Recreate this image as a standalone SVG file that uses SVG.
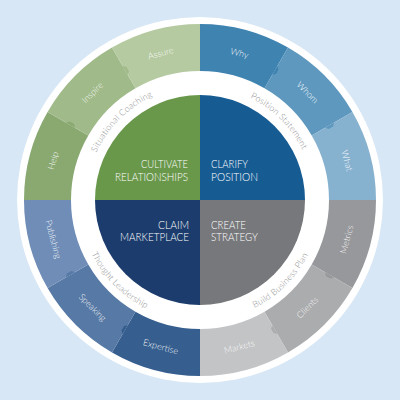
<svg xmlns="http://www.w3.org/2000/svg" xmlns:xlink="http://www.w3.org/1999/xlink" width="400" height="400" viewBox="0 0 400 400">
<style>
.seg-label{font-family:Lato,"Liberation Sans",sans-serif;font-size:9px;font-weight:300;fill:#ffffff;fill-opacity:0.95;text-anchor:middle}
.arc-label{font-family:Lato,"Liberation Sans",sans-serif;font-size:8.8px;font-weight:300;fill:#8f9092;text-anchor:middle;letter-spacing:0.2px}
.core{font-family:Lato,"Liberation Sans",sans-serif;font-size:11px;font-weight:300;fill:#ffffff}
.end{text-anchor:end}
</style>
<defs>
<path id="tab" d="M355,200 L352,202.8 L347,202.8 L344.5,200 Z"/>
<path id="arcTL" d="M86,200 A114,114 0 0 1 200,86"/>
<path id="arcTR" d="M200,86 A114,114 0 0 1 314,200"/>
<path id="arcBR" d="M200,321 A121,121 0 0 0 321,200"/>
<path id="arcBL" d="M79,200 A121,121 0 0 0 200,321"/>
</defs>
<rect x="0" y="0" width="400" height="400" fill="#d7e7f5"/>
<circle cx="200" cy="200" r="183" fill="#ffffff"/>

<g id="ring-create">
<path id="seg-metrics" d="M376,200 A176,176 0 0 1 352.42,288 L311.71,264.5 A129,129 0 0 0 329,200 Z" fill="#97989b"/>
<path id="seg-clients" d="M352.42,288 A176,176 0 0 1 288,352.42 L264.5,311.71 A129,129 0 0 0 311.71,264.5 Z" fill="#abacae"/>
<path id="seg-markets" d="M288,352.42 A176,176 0 0 1 200,376 L200,329 A129,129 0 0 0 264.5,311.71 Z" fill="#c3c4c6"/>
</g>
<g id="ring-claim">
<path id="seg-expertise" d="M200,376 A176,176 0 0 1 112,352.42 L135.5,311.71 A129,129 0 0 0 200,329 Z" fill="#365f8f"/>
<path id="seg-speaking" d="M112,352.42 A176,176 0 0 1 47.58,288 L88.29,264.5 A129,129 0 0 0 135.5,311.71 Z" fill="#5779a5"/>
<path id="seg-publishing" d="M47.58,288 A176,176 0 0 1 24,200 L71,200 A129,129 0 0 0 88.29,264.5 Z" fill="#6f8db7"/>
</g>
<g id="ring-cultivate">
<path id="seg-help" d="M24,200 A176,176 0 0 1 47.58,112 L88.29,135.5 A129,129 0 0 0 71,200 Z" fill="#89a971"/>
<path id="seg-inspire" d="M47.58,112 A176,176 0 0 1 112,47.58 L135.5,88.29 A129,129 0 0 0 88.29,135.5 Z" fill="#a0ba8a"/>
<path id="seg-assure" d="M112,47.58 A176,176 0 0 1 200,24 L200,71 A129,129 0 0 0 135.5,88.29 Z" fill="#b5caa1"/>
</g>
<g id="ring-clarify">
<path id="seg-why" d="M200,24 A176,176 0 0 1 288,47.58 L264.5,88.29 A129,129 0 0 0 200,71 Z" fill="#3f83b0"/>
<path id="seg-whom" d="M288,47.58 A176,176 0 0 1 352.42,112 L311.71,135.5 A129,129 0 0 0 264.5,88.29 Z" fill="#5e98be"/>
<path id="seg-what" d="M352.42,112 A176,176 0 0 1 376,200 L329,200 A129,129 0 0 0 311.71,135.5 Z" fill="#87b2cf"/>
</g>

<g id="tabs">
<use xlink:href="#tab" transform="rotate(30 200 200)" fill="#97989b"/>
<use xlink:href="#tab" transform="rotate(60 200 200)" fill="#abacae"/>
<use xlink:href="#tab" transform="rotate(120 200 200)" fill="#365f8f"/>
<use xlink:href="#tab" transform="rotate(150 200 200)" fill="#5779a5"/>
<use xlink:href="#tab" transform="rotate(210 200 200)" fill="#89a971"/>
<use xlink:href="#tab" transform="rotate(240 200 200)" fill="#a0ba8a"/>
<use xlink:href="#tab" transform="rotate(300 200 200)" fill="#3f83b0"/>
<use xlink:href="#tab" transform="rotate(330 200 200)" fill="#5e98be"/>
</g>

<g id="segment-labels">
<text class="seg-label" dy="3" transform="translate(200 200) rotate(195) translate(152 0) rotate(90)">Help</text>
<text class="seg-label" dy="3" transform="translate(200 200) rotate(225) translate(152 0) rotate(90)">Inspire</text>
<text class="seg-label" dy="3" transform="translate(200 200) rotate(255) translate(152 0) rotate(90)">Assure</text>
<text class="seg-label" dy="3" transform="translate(200 200) rotate(285) translate(152 0) rotate(90)">Why</text>
<text class="seg-label" dy="3" transform="translate(200 200) rotate(315) translate(152 0) rotate(90)">Whom</text>
<text class="seg-label" dy="3" transform="translate(200 200) rotate(345) translate(152 0) rotate(90)">What</text>
<text class="seg-label" dy="3" transform="translate(200 200) rotate(15) translate(152 0) rotate(-90)">Metrics</text>
<text class="seg-label" dy="3" transform="translate(200 200) rotate(45) translate(152 0) rotate(-90)">Clients</text>
<text class="seg-label" dy="3" transform="translate(200 200) rotate(75) translate(152 0) rotate(-90)">Markets</text>
<text class="seg-label" dy="3" transform="translate(200 200) rotate(105) translate(152 0) rotate(-90)">Expertise</text>
<text class="seg-label" dy="3" transform="translate(200 200) rotate(135) translate(152 0) rotate(-90)">Speaking</text>
<text class="seg-label" dy="3" transform="translate(200 200) rotate(165) translate(152 0) rotate(-90)">Publishing</text>
</g>

<g id="arc-labels">
<text class="arc-label"><textPath xlink:href="#arcTL" startOffset="50%">Situational Coaching</textPath></text>
<text class="arc-label"><textPath xlink:href="#arcTR" startOffset="50%">Position Statement</textPath></text>
<text class="arc-label"><textPath xlink:href="#arcBR" startOffset="50%">Build Business Plan</textPath></text>
<text class="arc-label"><textPath xlink:href="#arcBL" startOffset="50%">Thought Leadership</textPath></text>
</g>

<g id="node-cultivate">
<path d="M200,200 L95,200 A105,105 0 0 1 200,95 Z" fill="#6a984b"/>
<text class="core end" x="188" y="168" textLength="47" lengthAdjust="spacingAndGlyphs">CULTIVATE</text>
<text class="core end" x="188" y="180.5" textLength="73" lengthAdjust="spacingAndGlyphs">RELATIONSHIPS</text>
</g>
<g id="node-clarify">
<path d="M200,200 L200,95 A105,105 0 0 1 305,200 Z" fill="#165c93"/>
<text class="core" x="211" y="168" textLength="37" lengthAdjust="spacingAndGlyphs">CLARIFY</text>
<text class="core" x="211" y="180.5" textLength="47" lengthAdjust="spacingAndGlyphs">POSITION</text>
</g>
<g id="node-create">
<path d="M200,200 L305,200 A105,105 0 0 1 200,305 Z" fill="#77787b"/>
<text class="core" x="211" y="228.5" textLength="35" lengthAdjust="spacingAndGlyphs">CREATE</text>
<text class="core" x="211" y="241" textLength="47" lengthAdjust="spacingAndGlyphs">STRATEGY</text>
</g>
<g id="node-claim">
<path d="M200,200 L200,305 A105,105 0 0 1 95,200 Z" fill="#1b3c6c"/>
<text class="core end" x="189" y="228.5" textLength="31" lengthAdjust="spacingAndGlyphs">CLAIM</text>
<text class="core end" x="189" y="241" textLength="69" lengthAdjust="spacingAndGlyphs">MARKETPLACE</text>
</g>
</svg>
